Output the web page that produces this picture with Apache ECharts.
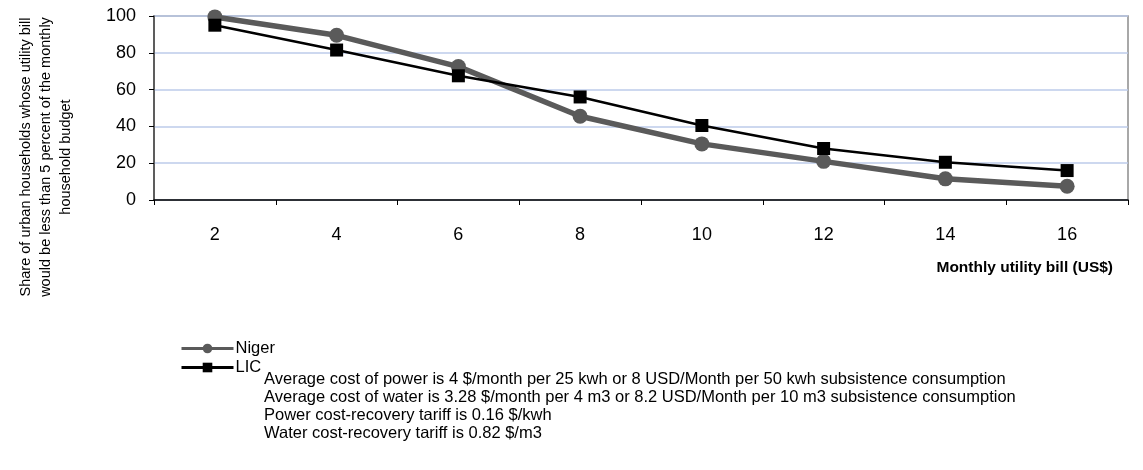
<!DOCTYPE html>
<html><head><meta charset="utf-8">
<script src="https://cdn.jsdelivr.net/npm/echarts@6/dist/echarts.min.js"></script>
<style>html,body{margin:0;padding:0;background:#fff}#c{width:1143px;height:470px}</style>
</head><body><div id="c"></div>
<script>
const categories = ['2','4','6','8','10','12','14','16'];
const niger = [99.5, 89.5, 72.5, 45.5, 30.5, 21, 11.5, 7.5];
const lic = [95, 81.5, 67.5, 56, 40.5, 28, 20.5, 16];
const yTitleLines = ['Share of urban households whose utility bill', 'would be less than 5 percent of the monthly', 'household budget'];
const notes = [
  'Average cost of power is 4 $/month per 25 kwh or 8 USD/Month per 50 kwh subsistence consumption',
  'Average cost of water is 3.28 $/month per 4 m3 or 8.2 USD/Month per 10 m3 subsistence consumption',
  'Power cost-recovery tariff is 0.16 $/kwh',
  'Water cost-recovery tariff is 0.82 $/m3'
];
const FONT = '"Liberation Sans", Arial, sans-serif';
const chart = echarts.init(document.getElementById('c'), null, {renderer: 'canvas'});
const graphics = [
  {type: 'text', rotation: Math.PI / 2, x: 46, y: 157,
   style: {text: yTitleLines.join('\n'), font: '14.5px ' + FONT, fill: '#000', align: 'center', verticalAlign: 'middle', lineHeight: 20}},
  {type: 'text', x: 1113, y: 268, style: {text: 'Monthly utility bill (US$)', font: 'bold 15.5px ' + FONT, fill: '#000', align: 'right', verticalAlign: 'middle'}}
];
notes.forEach((t, i) => graphics.push({type: 'text', x: 264, y: 379 + i * 18,
  style: {text: t, font: '16.5px ' + FONT, fill: '#000', align: 'left', verticalAlign: 'middle'}}));
chart.setOption({
  animation: false,
  textStyle: {fontFamily: FONT},
  grid: {left: 154, right: 15, top: 16, bottom: 270, show: true, borderColor: '#8c8c8c', borderWidth: 1.5},
  legend: {orient: 'vertical', left: 180, top: 340, itemWidth: 52, itemHeight: 12, itemGap: 2, padding: 0,
    lineStyle: {width: 3},
    textStyle: {fontSize: 16.5, lineHeight: 16, color: '#000', fontFamily: FONT, padding: [0, 0, 0, -3]},
    data: ['Niger', 'LIC']},
  xAxis: {type: 'category', data: categories, boundaryGap: true,
    axisLine: {lineStyle: {color: '#000', width: 1.5}},
    axisTick: {show: true, length: 5, lineStyle: {color: '#000'}},
    axisLabel: {fontSize: 18, color: '#000', margin: 26}},
  yAxis: {type: 'value', min: 0, max: 100, interval: 20,
    axisLine: {show: true, lineStyle: {color: '#444', width: 1.5}},
    axisTick: {show: true, length: 5, inside: false, lineStyle: {color: '#000'}},
    axisLabel: {fontSize: 18, color: '#000', margin: 18},
    splitLine: {lineStyle: {color: '#bccbea', width: 1.5}}},
  series: [
    {name: 'Niger', type: 'line', data: niger, symbol: 'circle', symbolSize: 15,
     itemStyle: {color: '#5a5a5a'}, lineStyle: {color: '#5a5a5a', width: 5.5}, z: 2},
    {name: 'LIC', type: 'line', data: lic, symbol: 'rect', symbolSize: 13,
     itemStyle: {color: '#000'}, lineStyle: {color: '#000', width: 2.5}, z: 3}
  ],
  graphic: graphics
});
</script></body></html>
